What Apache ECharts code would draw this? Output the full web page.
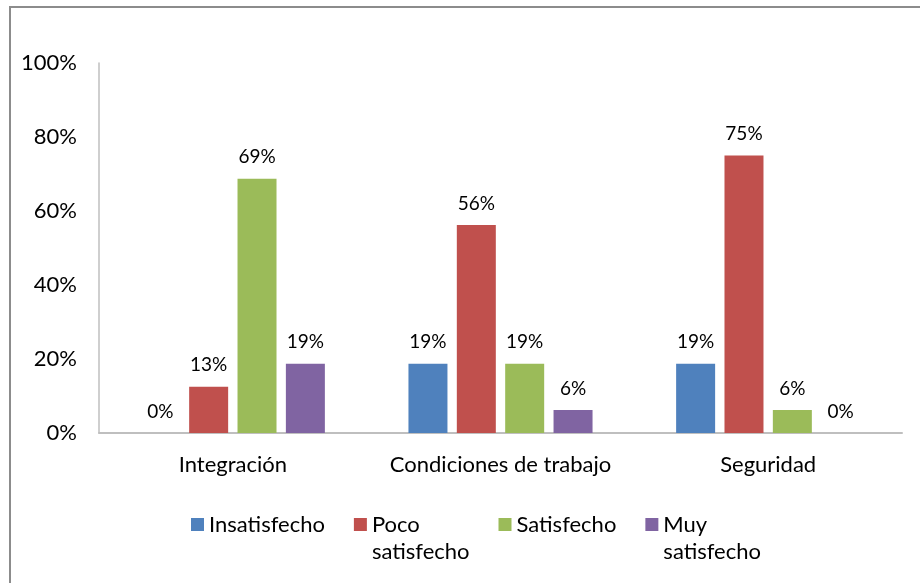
<!DOCTYPE html>
<html>
<head>
<meta charset="utf-8">
<script src="https://cdn.jsdelivr.net/npm/echarts@6/dist/echarts.min.js"></script>
<style>
  html, body { margin: 0; padding: 0; background: #fff; overflow: hidden; }
  #frame { position: absolute; left: 9px; top: 6px; width: 1000px; height: 700px; border: 2px solid #8c8c8c; }
  #chart { position: absolute; left: 0; top: 0; width: 920px; height: 583px; }
</style>
</head>
<body>
<div id="frame"></div>
<div id="chart"></div>
<script>
var categories = ["Integración", "Condiciones de trabajo", "Seguridad"];
var seriesNames = ["Insatisfecho", "Poco satisfecho", "Satisfecho", "Muy satisfecho"];
var insatisfecho = [0, 18.75, 18.75];
var pocoSatisfecho = [12.5, 56.25, 75];
var satisfecho = [68.75, 18.75, 6.25];
var muySatisfecho = [18.75, 6.25, 0];
var colors = ["#4F81BD", "#C0504D", "#9BBB59", "#8064A2"];

var FONT = "Lato, 'Open Sans', sans-serif";

function barSeries(name, data) {
  return {
    name: name,
    type: "bar",
    barWidth: 39,
    barGap: "24%",
    data: data,
    label: {
      show: true,
      position: "top",
      distance: 12,
      fontFamily: FONT,
      fontSize: 19,
      color: "#000",
      formatter: function (p) { return Math.round(p.value) + "%"; }
    }
  };
}

var chart = echarts.init(document.getElementById("chart"));
chart.setOption({
  animation: false,
  color: colors,
  grid: { left: 99, right: 18, top: 63, bottom: 150 },
  legend: {
    left: 186,
    top: 479,
    icon: "rect",
    itemWidth: 13,
    itemHeight: 13,
    itemGap: 29,
    textStyle: {
      fontFamily: FONT,
      fontSize: 22,
      color: "#000",
      lineHeight: 27
    },
    // blank first line so the first text line sits level with the swatch
    formatter: function (name) {
      return name.indexOf(" ") > 0 ? " \n" + name.replace(" ", "\n") : " \n" + name + "\n ";
    },
    data: seriesNames
  },
  xAxis: {
    type: "category",
    data: categories,
    axisLine: { lineStyle: { color: "#BFBFBF", width: 2 } },
    axisTick: { show: false },
    axisLabel: { interval: 0, margin: 21, fontFamily: FONT, fontSize: 22, color: "#000" }
  },
  yAxis: {
    type: "value",
    min: 0,
    max: 100,
    interval: 20,
    axisLine: { show: true, lineStyle: { color: "#BFBFBF", width: 1.5 } },
    axisTick: { show: false },
    splitLine: { show: false },
    axisLabel: {
      margin: 22,
      fontFamily: FONT,
      fontSize: 22,
      color: "#000",
      formatter: "{value}%"
    }
  },
  series: [
    barSeries(seriesNames[0], insatisfecho),
    barSeries(seriesNames[1], pocoSatisfecho),
    barSeries(seriesNames[2], satisfecho),
    barSeries(seriesNames[3], muySatisfecho)
  ]
});
</script>
</body>
</html>
